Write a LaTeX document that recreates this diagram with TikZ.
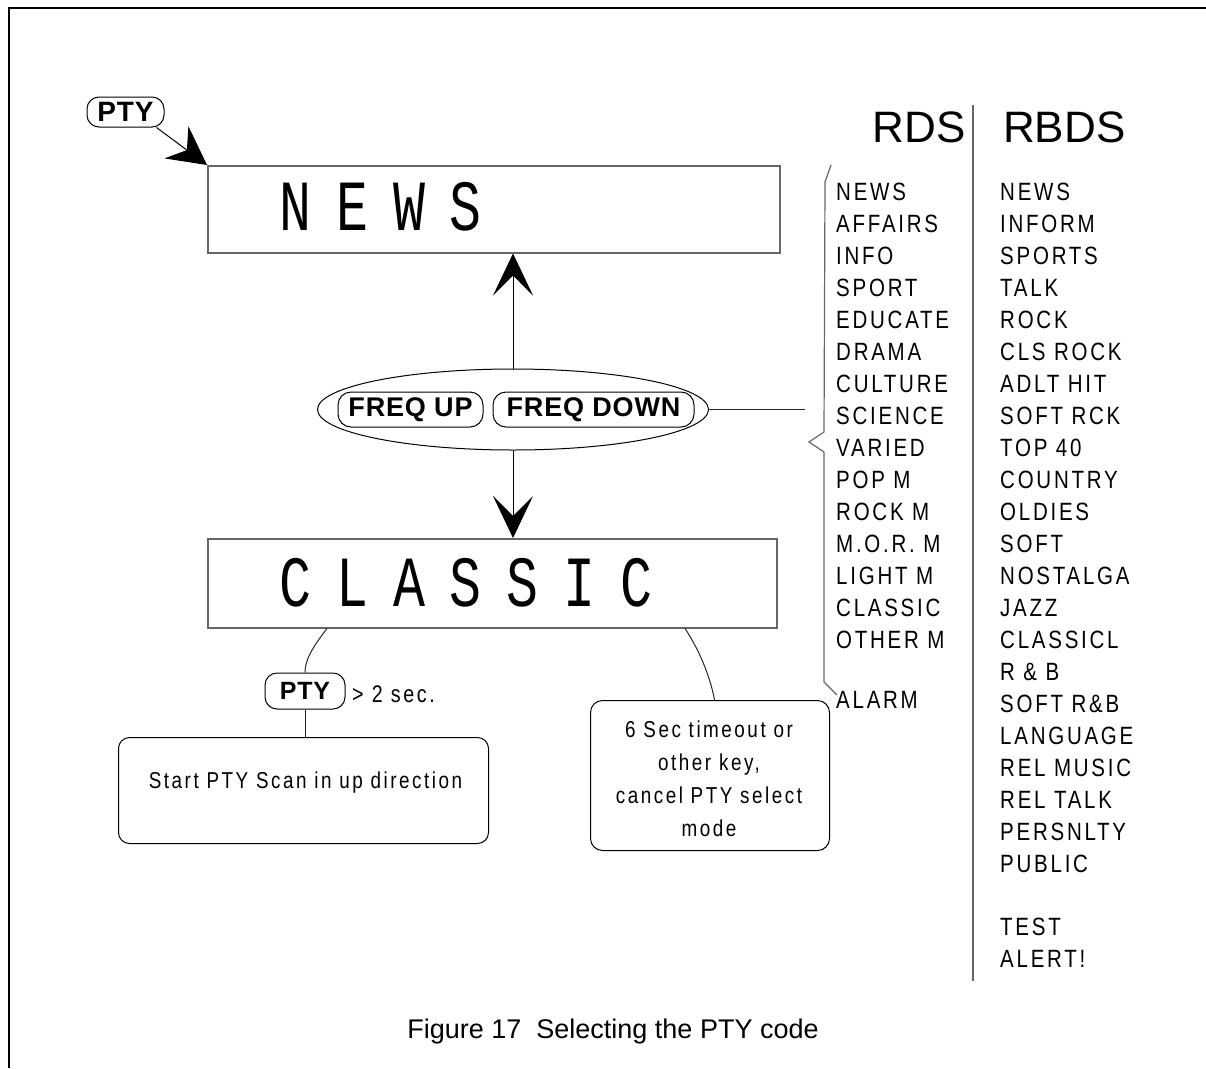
\documentclass[tikz,border=0pt]{standalone}
\usepackage{fontspec}
\setmainfont{Liberation Sans}
\newfontfamily\narrowfont[FakeStretch=0.82,LetterSpace=11]{Liberation Sans}
\newfontfamily\btnfont[LetterSpace=3]{Liberation Sans}
\newfontfamily\lcdfont[FakeStretch=0.74]{Liberation Mono}
\usetikzlibrary{arrows.meta,shapes.geometric,calc}
\newcommand\lcdch[1]{\makebox[56.8pt][c]{#1}}
\tikzset{
  frameline/.style={line width=1.8pt, black},
  gline/.style={line width=1.3pt, black!60},
  conn/.style={line width=1pt, black!85},
  lcdbox/.style={draw=black!60, line width=1.5pt, anchor=north west, inner sep=0pt},
  lcdtext/.style={anchor=west, inner sep=0pt, font=\lcdfont\fontsize{72}{72}\selectfont},
  btn/.style={draw, line width=1pt, rounded corners=13pt, inner sep=0pt, font=\btnfont\bfseries\fontsize{27}{30}\selectfont},
  notebox/.style={draw, line width=1pt, rounded corners=11pt, inner sep=0pt, anchor=north west},
  notetext/.style={inner sep=0pt, font=\narrowfont\fontsize{23}{33}\selectfont},
  lst/.style={anchor=base west, inner sep=0pt, font=\narrowfont\fontsize{25}{30}\selectfont},
  head/.style={inner sep=0pt, font=\fontsize{44}{44}\selectfont},
  bigarrow/.style={-{Stealth[length=42pt,width=40pt,inset=20pt]}, line width=1pt},
  ptyarrow/.style={-{Stealth[length=38pt,width=40pt,inset=13pt]}, line width=1pt},
}
\begin{document}
\begin{tikzpicture}[x=1pt,y=-1pt]
\useasboundingbox (0,0) rectangle (1206,1068);
% frame
\draw[frameline] (9,1068) -- (9,8) -- (1206,8);

% top PTY button and arrow
\node[btn, font=\btnfont\bfseries\fontsize{28}{30}\selectfont, minimum width=77pt, minimum height=30pt, rounded corners=12pt] (pty1) at (125.5,112) {PTY};
\node[lcdbox, minimum width=572pt, minimum height=87pt] (news) at (207,165) {};
\coordinate (pa) at ($(pty1.south east)+(-8,0)$);
\draw[ptyarrow] (pa) -- (news.north west);
\node[lcdtext] (newstext) at (267,207) {\lcdch{N}\lcdch{E}\lcdch{W}\lcdch{S}};

% FREQ ellipse
\node[draw, ellipse, minimum width=391pt, minimum height=81pt, inner sep=0pt, line width=1pt] (freq) at (513,409.5) {};
\node[btn, minimum width=145pt, minimum height=35pt] (fup) at (410.5,409.5) {FREQ UP};
\node[btn, minimum width=201pt, minimum height=35pt] (fdown) at (593.5,409.5) {FREQ DOWN};

% CLASSIC box
\node[lcdbox, minimum width=569pt, minimum height=89pt] (classic) at (207,538) {};
\node[lcdtext] (classictext) at (267,582.5) {\lcdch{C}\lcdch{L}\lcdch{A}\lcdch{S}\lcdch{S}\lcdch{I}\lcdch{C}};

% arrows
\draw[bigarrow] (freq.north) -- (freq.north |- news.south);
\draw[bigarrow] (freq.south) -- (freq.south |- classic.north);

% bottom left
\node[btn, font=\btnfont\bfseries\fontsize{25}{30}\selectfont, minimum width=80pt, minimum height=36pt, rounded corners=12pt] (pty2) at (305,691) {PTY};
\node[anchor=base west, inner sep=0pt, font=\narrowfont\fontsize{24}{30}\selectfont] (sec) at (352,702) {> 2 sec.};
\node[notebox, minimum width=370pt, minimum height=106pt] (box1) at (118,737) {};
\node[notetext, anchor=base] (box1text) at (305.5,788) {Start PTY Scan in up direction};
\coordinate (c1) at ($(classic.south west)+(120,0)$);
\draw[conn] (c1) .. controls (312,648) and (305,660) .. (pty2.north);
\draw[conn] (pty2.south) -- (pty2.south |- box1.north);

% bottom right
\node[notebox, minimum width=239pt, minimum height=150pt, rounded corners=12pt] (box2) at (590,700) {};
\node[notetext, align=center] (box2text) at (709,779) {6 Sec timeout or\\other key,\\cancel PTY select\\mode};
\coordinate (c3) at ($(classic.south west)+(478,0)$);
\coordinate (c3b) at ($(box2.north)+(4.5,0)$);
\draw[conn] (c3) .. controls (698,648) and (710,675) .. (c3b);

% brace and link
\coordinate (bracetip) at (805,409.5);
\draw[conn] (freq.east) -- (bracetip);
\draw[gline, line width=1.2pt] (831,165) -- (825,182) -- (824,432) -- (809,442) -- (824,452) -- (824,682) -- (837,695);

% headings and separator
\node[head, anchor=base east] (rds) at (966,142) {RDS};
\node[head, anchor=base west] (rbds) at (1003,142) {RBDS};
\draw[gline] (973,105) -- (973,981);

% RDS list
\foreach \t [count=\i] in {NEWS,AFFAIRS,INFO,SPORT,EDUCATE,DRAMA,CULTURE,SCIENCE,VARIED,POP M,ROCK M,M.O.R. M,LIGHT M,CLASSIC,OTHER M}
  \node[lst, name=rds\i] at (836,{200+32*(\i-1)}) {\t};
\node[lst] (rdsalarm) at (836,708) {ALARM};

% RBDS list
\foreach \t [count=\i] in {NEWS,INFORM,SPORTS,TALK,ROCK,CLS ROCK,ADLT HIT,SOFT RCK,TOP 40,COUNTRY,OLDIES,SOFT,NOSTALGA,JAZZ,CLASSICL,R \& B,SOFT R\&B,LANGUAGE,REL MUSIC,REL TALK,PERSNLTY,PUBLIC}
  \node[lst, name=rbds\i] at (1000,{200+32*(\i-1)}) {\t};
\node[lst] (rbdstest) at (1000,935) {TEST};
\node[lst] (rbdsalert) at (1000,967) {ALERT!};

% caption
\node[anchor=base, inner sep=0pt, font=\fontsize{27}{30}\selectfont] (caption) at (613,1038) {Figure 17\ \ Selecting the PTY code};
\end{tikzpicture}
\end{document}
